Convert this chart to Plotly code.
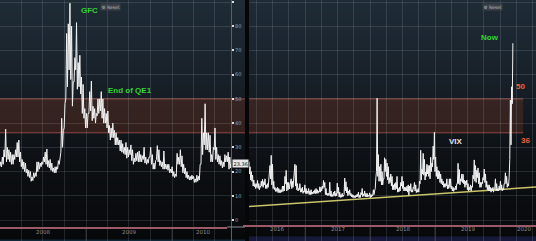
import plotly.graph_objects as go
import pandas as pd

W, H = 536, 241

# ---------------- DATA (VIX weekly low / high) ----------------
# Left panel: 2008 - Sep 2010 (weeks ending Friday)
lo_2008 = [22, 22, 23, 26, 24, 25, 24, 23, 23, 25, 26, 26, 24, 22, 21, 20, 19.5, 18, 17.5, 16,
           16.3, 17.5, 18, 20, 21, 22, 23, 24, 23, 22, 21.5, 20.5, 20, 19.5, 19.5, 21, 23, 28,
           30, 38, 50, 55, 62, 58, 47, 57, 62, 54, 55, 52, 44, 42]
hi_2008 = [24, 26, 29, 37.5, 30, 29, 28, 27, 27, 29, 32, 33, 28, 25, 24, 23.5, 21, 20.5, 20, 17.8,
           19.5, 19.5, 24, 24, 23.5, 24, 26, 28, 29.3, 24.5, 25, 23.5, 21.5, 22, 22, 24.5, 26, 42,
           37, 48, 77, 81, 89.5, 80, 57, 67, 81.5, 65, 68, 59, 56, 46]
lo_2009 = [38, 38, 44, 45, 41, 42, 40, 43, 44, 45, 42, 40, 40, 38, 36, 33, 34, 34, 31, 31,
           31, 28.5, 28, 27.5, 27, 25.5, 26, 27, 24.5, 23, 24, 24.5, 24, 24, 24, 25, 23.5, 23,
           23.5, 26, 23, 21, 21, 25, 24, 22.5, 22, 21, 21, 21, 20.5, 19.5]
hi_2009 = [44, 44, 53, 57.4, 47, 46, 44, 50, 50, 53, 50, 46, 44, 45, 39, 38, 40, 37, 36, 34,
           33, 33, 31.5, 30, 32, 30, 29, 31, 29, 25.5, 27.5, 28, 28.5, 27, 26.5, 30, 26, 25,
           26, 30, 27, 23.5, 24.5, 30.7, 29, 24.5, 24, 28.5, 23, 23, 23, 21]
lo_2010 = [19.5, 18, 17.5, 18, 23, 23, 22, 19.5, 19, 17.5, 17, 16.5, 16.5, 17, 15.5, 15.6, 16, 16.5,
           23, 27, 31, 29, 29, 28, 24, 24, 29, 25, 24, 23, 22.5, 21.5, 22, 24, 24, 21, 21.5]
hi_2010 = [22, 20, 19, 27.5, 26, 29, 26.5, 23, 21.5, 20, 18.5, 18, 18.5, 18, 17, 18.5, 18, 23,
           42, 36, 48, 36, 36, 35, 27, 30, 38, 30, 27, 26.5, 24.5, 24, 27, 26.5, 28, 26, 23.4]
last_value = "23.36"

# Right panel: Feb 2016 - Mar 2020 (weeks ending Friday)
lo_2016 = [20, 19, 16.5, 16, 14, 13.8, 13, 13.5, 13, 12.5, 13.5, 14, 13.5, 14.5, 13, 13, 13.5, 17,
           17, 14.5, 13, 12.5, 11.8, 11.8, 11.3, 11.3, 11.3, 11.5, 11.8, 12, 15, 12, 12.5, 12.8,
           14.5, 13, 13.5, 17.5, 14, 12.5, 12, 12.5, 11.5, 11.5, 11, 11.5]
hi_2016 = [24, 22, 20, 18.5, 16.5, 15, 15, 16.3, 15, 14, 16, 16.8, 15.8, 17, 14.5, 15, 17, 22.5,
           26.7, 23, 16, 13.5, 13, 13.5, 13, 12.5, 12.5, 14, 14, 18, 20.5, 15.5, 15.5, 14.5,
           17, 16, 17, 23, 22.5, 15, 13, 15, 13, 13.5, 12, 14.5]
lo_2017 = [11, 10.8, 11, 10.5, 10.5, 10.6, 10.8, 11, 10.9, 11, 11, 11.5, 11.5, 12, 13, 13.5, 10.5,
           10.3, 10, 10.2, 9.8, 9.7, 9.7, 10, 9.8, 10, 11, 9.5, 9.3, 9.4, 9.6, 10.5, 12, 11.2, 10,
           10.5, 10, 9.5, 9.3, 9.2, 9.2, 9.5, 9.6, 9.2, 9.3, 10.5, 9.6, 10, 9.6, 9.5, 9.5, 9.8]
hi_2017 = [13, 12, 13, 12, 12.5, 11.5, 12, 12.5, 13, 12.5, 12, 13.7, 13.5, 14, 16.3, 15.5, 13,
           11, 11, 15.6, 12, 10.5, 11.5, 12, 11, 15.2, 13.5, 11.5, 10.5, 11, 10.5, 17.3, 15.8, 13.5,
           12, 12.5, 11, 10.5, 10.2, 10, 10.2, 10.7, 11.5, 10.2, 11.3, 13, 10.8, 12, 11, 11, 10.2, 11.2]
lo_2018 = [9.2, 9.5, 10, 10.5, 13, 20, 18, 16, 16, 14.5, 14.5, 17, 20, 18, 16.5, 15, 15.5, 14,
           12.5, 12.5, 12.5, 13, 11.5, 11.6, 12, 14, 13, 12, 12, 12, 11.5, 10.2, 12, 11.5, 11.5,
           13, 12, 11.3, 11.5, 11.5, 15, 16.5, 19, 18.5, 16.5, 18, 19, 18, 17, 20, 22, 25]
hi_2018 = [10.5, 10.5, 12.5, 12, 17.5, 50.3, 27, 22, 23, 20, 17, 25.7, 25, 23.5, 22, 17.5, 19, 18,
           14.5, 15, 15.5, 18, 13, 13.5, 15.5, 18, 16, 13.5, 13.5, 14, 14.5, 14, 15, 12.5, 13.5,
           15.5, 14.5, 12.5, 13, 16, 28.8, 21, 27.5, 25, 19.8, 23, 22.5, 22.5, 25.9, 23.5, 30.5, 36.2]
lo_2019 = [20, 18, 17, 17, 15.5, 15, 14.5, 13.5, 13.5, 14, 12.8, 13, 13.5, 12.8, 12, 11.8, 12.5,
           12.5, 15, 15, 14.5, 16, 15.5, 15, 13.5, 14.5, 12.5, 12, 12.5, 12, 13.5, 17, 16, 15.5,
           17.5, 15, 13.5, 13.5, 15, 16.5, 15.5, 13.5, 12.5, 12, 12, 11.5, 12, 11.5, 13, 12, 12, 12]
hi_2019 = [26, 22, 20.5, 20, 19, 17, 16, 15, 15, 17, 14.5, 17, 17, 14, 13.5, 13, 14,
           15, 23.4, 20.8, 17, 19, 18.9, 16.5, 16, 16.5, 15, 13.5, 14.5, 14, 18.5, 24.8, 22.5, 20.5,
           21.5, 19.5, 15.5, 15.5, 17.5, 21, 19, 16, 14.5, 14.5, 13.5, 13, 13.5, 13, 17, 15, 13, 14]
lo_2020 = [12.5, 12.5, 12, 12.5, 15, 15, 13.5, 14, 25, 31, 48]
hi_2020 = [16, 14.5, 13, 15, 19.5, 18, 15, 17.5, 49.5, 55, 73]

# Trend line (support) on the right panel
trend_dates = ["2016-02-20", "2020-07-21"]
trend_values = [5.6, 13.6]

# Highlighted zone
zone_low, zone_high = 36, 50

left_years = ["2008", "2009", "2010"]
left_year_pos = ["2008-07-02", "2009-07-02", "2010-05-10"]
right_years = ["2016", "2017", "2018", "2019", "2020"]
right_year_pos = ["2016-07-25", "2017-07-02", "2018-07-02", "2019-07-02", "2020-05-15"]

# ---------------- helpers ----------------
def weekly_points(start, lows, highs):
    fridays = pd.date_range(start, periods=len(lows), freq="W-FRI")
    xs, ys = [], []
    for d, l, h in zip(fridays, lows, highs):
        xs += [d - pd.Timedelta(hours=84), d]
        ys += [l, h]
    return xs, ys

lx, ly = [], []
for s, l, h in [("2008-01-04", lo_2008, hi_2008), ("2009-01-02", lo_2009, hi_2009),
                ("2010-01-01", lo_2010, hi_2010)]:
    a, b = weekly_points(s, l, h)
    lx += a; ly += b
rx, ry = [], []
for s, l, h in [("2016-02-19", lo_2016, hi_2016), ("2017-01-06", lo_2017, hi_2017),
                ("2018-01-05", lo_2018, hi_2018), ("2019-01-04", lo_2019, hi_2019),
                ("2020-01-03", lo_2020, hi_2020)]:
    a, b = weekly_points(s, l, h)
    rx += a; ry += b

YR = [(220 - 241) / 2.422, 220 / 2.422]
L_DOM = [0, 231 / W]
R_DOM = [249 / W, 1]
L_RANGE = ["2008-01-01", "2010-09-08"]
R_RANGE = ["2016-02-20", "2020-07-21"]

fig = go.Figure()
fig.add_trace(go.Scatter(x=lx, y=ly, mode="lines", line=dict(color="#f2f2f2", width=1),
                         xaxis="x", yaxis="y", hoverinfo="skip"))
fig.add_trace(go.Scatter(x=pd.to_datetime(trend_dates), y=trend_values, mode="lines",
                         line=dict(color="#c9c46a", width=1.4), xaxis="x2", yaxis="y2",
                         hoverinfo="skip"))
fig.add_trace(go.Scatter(x=rx, y=ry, mode="lines", line=dict(color="#f2f2f2", width=1),
                         xaxis="x2", yaxis="y2", hoverinfo="skip"))

shapes = []
# vertical gradient background (style only)
stops = [(0, (31, 43, 53)), (60, (26, 36, 45)), (120, (18, 24, 30)), (170, (12, 15, 18)),
         (241, (7, 8, 10))]
def col_at(yp):
    for (y0, c0), (y1, c1) in zip(stops[:-1], stops[1:]):
        if y0 <= yp <= y1:
            t = (yp - y0) / (y1 - y0)
            return "rgb(%d,%d,%d)" % tuple(round(a + (b - a) * t) for a, b in zip(c0, c1))
    return "rgb(7,8,10)"
step = 6
for yp in range(0, 241, step):
    shapes.append(dict(type="rect", xref="paper", yref="paper", x0=0, x1=1,
                       y0=1 - (yp + step) / H, y1=1 - yp / H, line=dict(width=0),
                       fillcolor=col_at(yp + step / 2), layer="below"))
# gap between panels
shapes.append(dict(type="rect", xref="paper", yref="paper", x0=245 / W, x1=249 / W, y0=0, y1=1,
                   line=dict(width=0), fillcolor="#050607", layer="below"))
# bottom strips
shapes.append(dict(type="rect", xref="paper", yref="paper", x0=249 / W, x1=1, y0=0, y1=4.5 / H,
                   line=dict(width=0), fillcolor="#17193c", layer="below"))
shapes.append(dict(type="rect", xref="paper", yref="paper", x0=0, x1=245 / W, y0=0, y1=1.5 / H,
                   line=dict(width=0), fillcolor="#102838", layer="below"))

band_fill = "rgba(140,62,32,0.28)"
band_edge = "rgba(175,85,78,0.8)"
# zone bands
shapes.append(dict(type="rect", xref="paper", yref="y", x0=0, x1=245 / W, y0=zone_low, y1=zone_high,
                   line=dict(width=0), fillcolor=band_fill, layer="below"))
shapes.append(dict(type="rect", xref="x2", yref="y2", x0=R_RANGE[0], x1="2020-05-10",
                   y0=zone_low, y1=zone_high, line=dict(width=0),
                   fillcolor=band_fill, layer="below"))
for v in (zone_low, zone_high):
    shapes.append(dict(type="line", xref="paper", yref="y", x0=0, x1=245 / W, y0=v, y1=v,
                       line=dict(color=band_edge, width=1), layer="below"))
    shapes.append(dict(type="line", xref="x2", yref="y2", x0=R_RANGE[0], x1="2020-05-10", y0=v, y1=v,
                       line=dict(color=band_edge, width=1), layer="below"))

# pink baseline strips
shapes.append(dict(type="line", xref="paper", yref="paper", x0=0, x1=227 / W,
                   y0=1 - 228 / H, y1=1 - 228 / H, line=dict(color="#9c5a68", width=2)))
shapes.append(dict(type="line", xref="paper", yref="paper", x0=227 / W, x1=245 / W,
                   y0=1 - 227 / H, y1=1 - 227 / H, line=dict(color="#8a8f99", width=1)))
shapes.append(dict(type="line", xref="paper", yref="paper", x0=243 / W, x1=1,
                   y0=1 - 226 / H, y1=1 - 226 / H, line=dict(color="#9c5a68", width=2)))
# year separators under axis
for d in ["2009-01-01", "2010-01-01"]:
    shapes.append(dict(type="line", xref="x", yref="paper", x0=d, x1=d, y0=0, y1=1 - 229 / H,
                       line=dict(color="#3c3f44", width=1)))
for d in ["2017-01-01", "2018-01-01", "2019-01-01", "2020-01-01"]:
    shapes.append(dict(type="line", xref="x2", yref="paper", x0=d, x1=d, y0=0, y1=1 - 227 / H,
                       line=dict(color="#3c3f44", width=1)))

ann = []
for t, p in zip(left_years, left_year_pos):
    ann.append(dict(text=t, x=p, xref="x", y=1 - 237 / H, yref="paper", showarrow=False,
                    font=dict(size=5.5, color="#8c8c8c", family="DejaVu Sans")))
for t, p in zip(right_years, right_year_pos):
    ann.append(dict(text=t, x=p, xref="x2", y=1 - 234 / H, yref="paper", showarrow=False,
                    font=dict(size=5.5, color="#8c8c8c", family="DejaVu Sans")))
green = "#2fd62f"
ann += [
    dict(text="<b>GFC</b>", x="2009-01-17", xref="x", y=86.7, yref="y", showarrow=False,
         font=dict(size=8, color=green, family="Liberation Sans")),
    dict(text="<b>End of QE1</b>", x="2009-07-06", xref="x", y=53.6, yref="y", showarrow=False,
         font=dict(size=8, color=green, family="Liberation Sans")),
    dict(text="<b>Now</b>", x="2019-11-05", xref="x2", y=75.2, yref="y2", showarrow=False,
         font=dict(size=8, color=green, family="Liberation Sans")),
    dict(text="<b>VIX</b>", x="2019-04-27", xref="x2", y=32.6, yref="y2", showarrow=False,
         font=dict(size=8, color="#e6e6e6", family="Liberation Sans")),
    dict(text="<b>50</b>", x="2020-04-27", xref="x2", y=55.3, yref="y2", showarrow=False,
         font=dict(size=8, color="#e8653a", family="Liberation Sans")),
    dict(text="<b>36</b>", x="2020-05-21", xref="x2", y=33.0, yref="y2", showarrow=False,
         font=dict(size=8, color="#e8653a", family="Liberation Sans")),
    dict(text=last_value, x=232 / W, xref="paper", xanchor="left", y=23.36, yref="y",
         showarrow=False, bgcolor="#e6e6e6", borderpad=0.5,
         font=dict(size=5, color="#111111", family="DejaVu Sans")),
    dict(text="⚙ Reset", x=100 / W, xref="paper", y=1 - 3.5 / H, yref="paper", showarrow=False,
         bgcolor="#3a4047", borderpad=0.5, font=dict(size=4.5, color="#b8b8b8", family="DejaVu Sans")),
    dict(text="⚙ Reset", x=503 / W, xref="paper", y=1 - 3.5 / H, yref="paper", showarrow=False,
         bgcolor="#3a4047", borderpad=0.5, font=dict(size=4.5, color="#b8b8b8", family="DejaVu Sans")),
]

grid = "rgba(190,210,228,0.15)"
fig.update_layout(
    width=W, height=H, margin=dict(l=0, r=0, t=0, b=0),
    paper_bgcolor="#07080a", plot_bgcolor="rgba(0,0,0,0)", showlegend=False,
    shapes=shapes, annotations=ann,
    xaxis=dict(domain=L_DOM, range=L_RANGE, type="date", showgrid=True, gridcolor=grid,
               gridwidth=1, dtick="M3", tick0="2008-01-01", showticklabels=False,
               zeroline=False, showline=False, ticks=""),
    yaxis=dict(domain=[0, 1], range=YR, anchor="x", side="right", tickvals=list(range(0, 100, 10)),
               showgrid=True, gridcolor=grid, zeroline=False, showline=True,
               linecolor="#56616c", linewidth=1, ticks="outside", ticklen=2, tickwidth=1.5,
               tickcolor="#e0e0e0", tickfont=dict(size=5, color="#9aa3ab", family="DejaVu Sans")),
    xaxis2=dict(domain=R_DOM, range=R_RANGE, type="date", showgrid=True, gridcolor=grid,
                gridwidth=1, dtick="M3", tick0="2016-01-01", showticklabels=False,
                zeroline=False, showline=False, ticks="", anchor="y2"),
    yaxis2=dict(domain=[0, 1], range=YR, anchor="x2", tickvals=list(range(0, 100, 10)),
                showgrid=True, gridcolor=grid, zeroline=False, showticklabels=False,
                showline=False, ticks=""),
)
fig.write_html("out.html")
